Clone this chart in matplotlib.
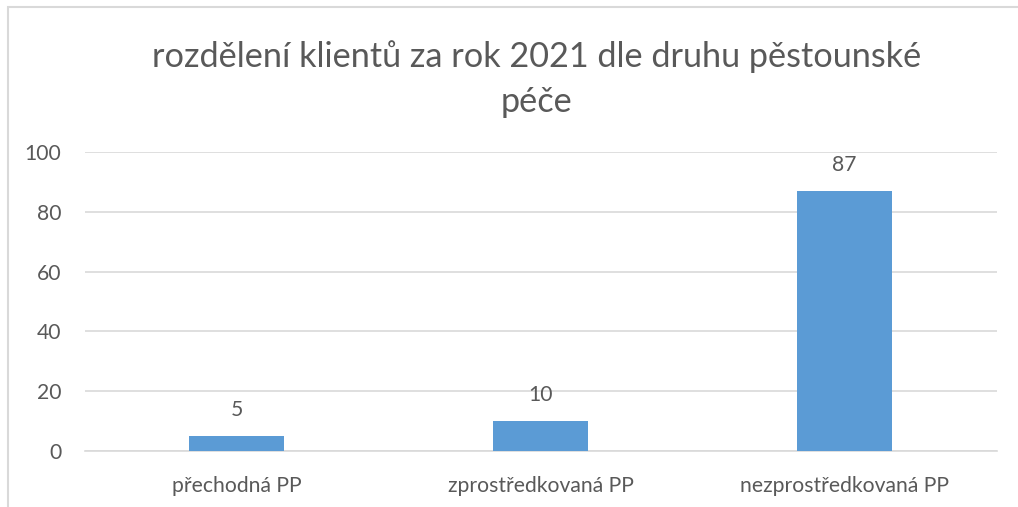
import matplotlib.pyplot as plt
from matplotlib.patches import Rectangle

# data
categories = ["přechodná PP", "zprostředkovaná PP", "nezprostředkovaná PP"]
values = [5, 10, 87]
y_ticks = [0, 20, 40, 60, 80, 100]
title = "rozdělení klientů za rok 2021 dle druhu pěstounské\npéče"

plt.rcParams['font.family'] = ['Lato', 'DejaVu Sans']
text_color = '#595959'

fig = plt.figure(figsize=(10.18, 5.07), dpi=100)
ax = fig.add_axes([0.0835, 0.1105, 0.8955, 0.5895])

# chart border (only left/top edges visible in the original crop)
fig.patches.append(Rectangle((8 / 1018, -0.1), 1.2, 1 - 7 / 507 + 0.1, transform=fig.transFigure,
                             fill=False, edgecolor='#d9d9d9', linewidth=1.5))

x = range(len(categories))
bars = ax.bar(x, values, width=0.3125, color='#5b9bd5', zorder=3)
for b, v in zip(bars, values):
    ax.text(b.get_x() + b.get_width() / 2, v + 5.5, str(v), ha='center', va='bottom',
            fontsize=15.2, color=text_color)

ax.set_xlim(-0.5, len(categories) - 0.5)
ax.set_ylim(0, 100)
ax.set_yticks(y_ticks)
ax.set_xticks(list(x))
ax.set_xticklabels(categories)
ax.tick_params(axis='both', length=0, labelsize=15.2, labelcolor=text_color)
ax.tick_params(axis='x', pad=18)
ax.tick_params(axis='y', pad=17)

ax.grid(axis='y', color='#d9d9d9', linewidth=1.2, zorder=0)
for s in ax.spines.values():
    s.set_visible(False)
ax.spines['bottom'].set_visible(True)
ax.spines['bottom'].set_color('#d9d9d9')
ax.spines['bottom'].set_linewidth(1.2)

fig.text(0.527, 0.844, title, ha='center', va='center', fontsize=24.7, color=text_color,
         linespacing=1.5)

fig.savefig("out.png", dpi=100)
